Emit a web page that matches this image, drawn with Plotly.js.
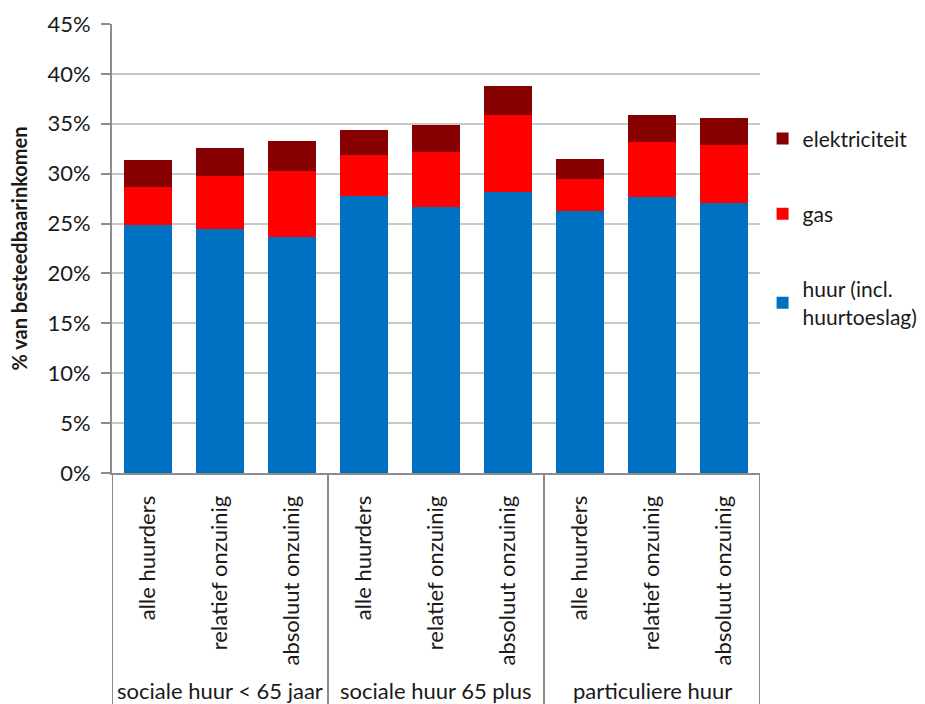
<!DOCTYPE html>
<html>
<head>
<meta charset="utf-8">
<script src="https://cdn.plot.ly/plotly-3.0.1.min.js"></script>
<style>html,body{margin:0;padding:0;background:#fff;}#chart{width:925px;height:704px;}</style>
</head>
<body>
<div id="chart"></div>
<script>
var groupNames = ["sociale huur < 65 jaar","sociale huur 65 plus","particuliere huur"];
var labels = ["alle huurders","relatief onzuinig","absoluut onzuinig",
              "alle huurders","relatief onzuinig","absoluut onzuinig",
              "alle huurders","relatief onzuinig","absoluut onzuinig"];
var huur = [0.249,0.245,0.237,0.278,0.267,0.282,0.263,0.277,0.271];
var gas = [0.038,0.053,0.066,0.041,0.055,0.077,0.032,0.055,0.058];
var elektriciteit = [0.027,0.028,0.030,0.025,0.027,0.029,0.020,0.027,0.027];
var seriesNames = ["huur (incl.<br>huurtoeslag)","gas","elektriciteit"];
var colors = ["#0070c0","#ff0000","#870000"];

var font = "Lato, 'Liberation Sans', sans-serif";
var idx = labels.map(function(_,i){return i;});
var vals = [huur, gas, elektriciteit];
var traces = vals.map(function(v,i){
  return {type:'bar', x:idx, y:v, name:seriesNames[i],
    marker:{color:colors[i], line:{width:0}}, legendgroup:'g'+i, legendrank:(3-i)*100, hoverinfo:'y'};
});

var perGroup = labels.length / groupNames.length;
var shapes = [];
for (var g = 0; g <= groupNames.length; g++) {
  shapes.push({type:'line', xref:'x', yref:'paper', x0:g*perGroup-0.5, x1:g*perGroup-0.5,
    y0:0, y1:-0.52, line:{color:'#8c8c8c', width:2}});
}
var annotations = groupNames.map(function(n,g){
  return {xref:'x', yref:'paper', x:g*perGroup+(perGroup-1)/2, y:-0.485, text:n, showarrow:false,
    xanchor:'center', yanchor:'middle', font:{size:22, color:'#1a1a1a'}};
});

var layout = {
  width:925, height:704,
  margin:{l:112, r:165, t:24, b:231, autoexpand:false},
  barmode:'stack', bargap:0.33,
  paper_bgcolor:'#fff', plot_bgcolor:'#fff',
  font:{family:font, size:22, color:'#1a1a1a'},
  xaxis:{range:[-0.5, labels.length-0.5], tickmode:'array', tickvals:idx, ticktext:labels, tickangle:-90,
    showline:true, linecolor:'#8c8c8c', linewidth:2, ticks:'', showgrid:false, zeroline:false,
    ticklabelstandoff:12, tickfont:{size:22}, automargin:false},
  yaxis:{range:[0,0.45], dtick:0.05, tickformat:'.0%', showgrid:true, gridcolor:'#c8c8c8', gridwidth:2,
    showline:true, linecolor:'#8c8c8c', linewidth:2, ticks:'outside', ticklen:9, tickcolor:'#8c8c8c', tickwidth:2,
    zeroline:false, tickfont:{size:22}, ticklabelstandoff:6, automargin:false,
    title:{text:'<b>% van besteedbaarinkomen</b>', font:{size:20}, standoff:14}},
  legend:{x:1.004, y:0.79, xanchor:'left', yanchor:'top', traceorder:'grouped', tracegroupgap:45,
    font:{size:21}, itemwidth:30},
  shapes:shapes, annotations:annotations,
  showlegend:true
};
Plotly.newPlot('chart', traces, layout, {displayModeBar:false, staticPlot:true});
</script>
</body>
</html>
